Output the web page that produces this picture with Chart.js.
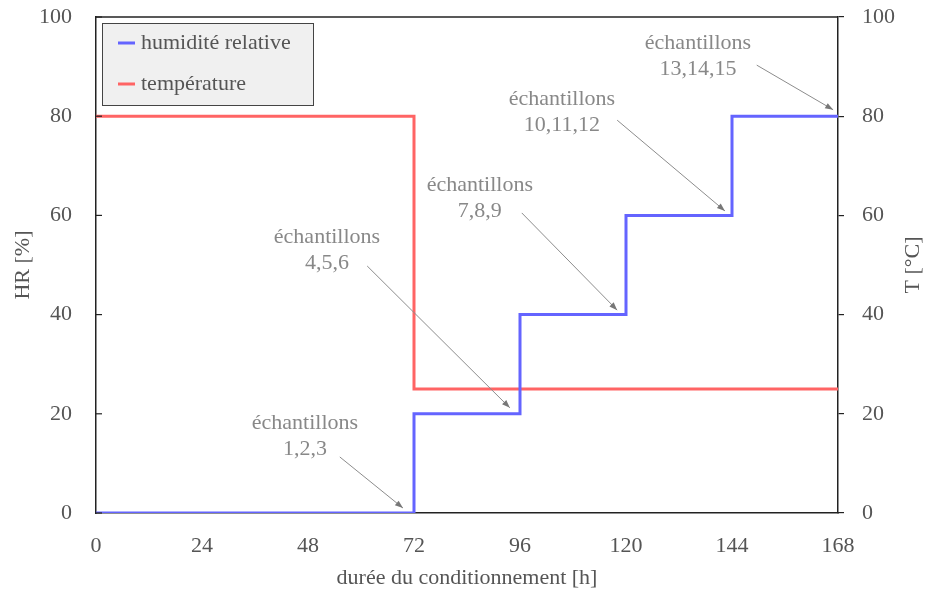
<!DOCTYPE html>
<html>
<head>
<meta charset="utf-8">
<script src="https://cdn.jsdelivr.net/npm/chart.js@4/dist/chart.umd.min.js"></script>
<style>
html,body{margin:0;padding:0;background:#fff;}
#wrap{width:927px;height:589px;position:relative;}
</style>
</head>
<body>
<div id="wrap"><canvas id="c"></canvas></div>
<script>
// ---- data ----
const hours = [0, 72, 96, 120, 144, 168];
const humidity = [0, 20, 40, 60, 80, 80];
const tempHours = [0, 72, 168];
const temperature = [80, 25, 25];
const seriesNames = ['humidité relative', 'température'];
const xTicks = [0, 24, 48, 72, 96, 120, 144, 168];
const yTicks = [0, 20, 40, 60, 80, 100];
const annotationLines = [
  ['échantillons', '1,2,3'],
  ['échantillons', '4,5,6'],
  ['échantillons', '7,8,9'],
  ['échantillons', '10,11,12'],
  ['échantillons', '13,14,15']
];
// annotation layout (data coordinates): text centre, arrow start, arrow end
const annotationText = [[47.3, 18.1], [52.3, 55.6], [86.9, 66.1], [105.5, 83.5], [136.3, 94.8]];
const arrowFrom = [[55.2, 11.3], [61.4, 49.8], [96.4, 60.5], [118, 79.2], [149.6, 90.3]];
const arrowTo = [[69.5, 1.0], [93.7, 21.2], [118, 40.9], [142.4, 60.9], [166.9, 81.3]];

const FONT = "'Liberation Serif', 'DejaVu Serif', serif";
const FS = 22;
const TXT = '#555555';
const AX = '#222222';
const BLUE = '#6464ff';
const RED = '#ff6464';

const extras = {
  id: 'extras',
  afterDraw(chart) {
    const ctx = chart.ctx;
    const a = chart.chartArea;
    const x = chart.scales.x, y = chart.scales.y;
    ctx.save();
    // top border
    ctx.strokeStyle = AX; ctx.lineWidth = 1.5;
    ctx.beginPath(); ctx.moveTo(a.left, a.top); ctx.lineTo(a.right, a.top); ctx.stroke();
    // inward ticks on left axis
    ctx.lineWidth = 1.2;
    yTicks.forEach(v => {
      const py = y.getPixelForValue(v);
      ctx.beginPath(); ctx.moveTo(a.left, py); ctx.lineTo(a.left + 6, py); ctx.stroke();
    });
    // annotations
    ctx.font = FS + 'px ' + FONT;
    ctx.textAlign = 'center'; ctx.textBaseline = 'middle';
    annotationLines.forEach((lines, i) => {
      const tx = x.getPixelForValue(annotationText[i][0]);
      const ty = y.getPixelForValue(annotationText[i][1]);
      ctx.fillStyle = '#888888';
      lines.forEach((s, k) => ctx.fillText(s, tx, ty + k * 26));
      const x0 = x.getPixelForValue(arrowFrom[i][0]), y0 = y.getPixelForValue(arrowFrom[i][1]);
      const x1 = x.getPixelForValue(arrowTo[i][0]), y1 = y.getPixelForValue(arrowTo[i][1]);
      ctx.strokeStyle = '#8c8c8c'; ctx.lineWidth = 1;
      ctx.beginPath(); ctx.moveTo(x0, y0); ctx.lineTo(x1, y1); ctx.stroke();
      const ang = Math.atan2(y1 - y0, x1 - x0), L = 8, W = 3;
      ctx.fillStyle = '#777777';
      ctx.beginPath();
      ctx.moveTo(x1, y1);
      ctx.lineTo(x1 - L * Math.cos(ang) + W * Math.sin(ang), y1 - L * Math.sin(ang) - W * Math.cos(ang));
      ctx.lineTo(x1 - L * Math.cos(ang) - W * Math.sin(ang), y1 - L * Math.sin(ang) + W * Math.cos(ang));
      ctx.closePath(); ctx.fill();
    });
    // legend box
    const lx = a.left + 6, ly = a.top + 6, lw = 211, lh = 82;
    ctx.fillStyle = '#f0f0f0'; ctx.fillRect(lx, ly, lw, lh);
    ctx.strokeStyle = '#444444'; ctx.lineWidth = 1; ctx.strokeRect(lx + 0.5, ly + 0.5, lw, lh);
    ctx.textAlign = 'left'; ctx.textBaseline = 'middle';
    chart.data.datasets.forEach((ds, i) => {
      const cy = ly + 20 + i * 41;
      ctx.strokeStyle = ds.borderColor; ctx.lineWidth = 3;
      ctx.beginPath(); ctx.moveTo(lx + 16, cy); ctx.lineTo(lx + 33, cy); ctx.stroke();
      ctx.fillStyle = TXT; ctx.fillText(ds.label, lx + 39, cy);
    });
    // right axis title (reads bottom-to-top)
    ctx.save();
    ctx.translate(913, (a.top + a.bottom) / 2);
    ctx.rotate(-Math.PI / 2);
    ctx.textAlign = 'center'; ctx.textBaseline = 'middle';
    ctx.fillStyle = TXT; ctx.fillText('T [°C]', 0, 0);
    ctx.restore();
    ctx.restore();
  }
};

const noPadY = s => { s.paddingTop = 0; s.paddingBottom = 0; };

new Chart(document.getElementById('c'), {
  type: 'line',
  data: {
    datasets: [
      { label: seriesNames[0], data: hours.map((h, i) => ({ x: h, y: humidity[i] })),
        borderColor: BLUE, borderWidth: 3, stepped: true, pointRadius: 0, fill: false, yAxisID: 'y' },
      { label: seriesNames[1], data: tempHours.map((h, i) => ({ x: h, y: temperature[i] })),
        borderColor: RED, borderWidth: 3, stepped: true, pointRadius: 0, fill: false, yAxisID: 'y2' }
    ]
  },
  options: {
    responsive: true, maintainAspectRatio: false, animation: false,
    layout: { padding: { top: 17, left: 0, right: 0, bottom: 0 } },
    plugins: { legend: { display: false }, tooltip: { enabled: false } },
    scales: {
      x: {
        type: 'linear', min: 0, max: 168,
        afterBuildTicks: s => { s.ticks = xTicks.map(v => ({ value: v })); },
        grid: { display: false, drawTicks: false },
        border: { display: true, color: AX, width: 1.5 },
        ticks: { color: TXT, font: { family: FONT, size: FS }, padding: 20, maxRotation: 0, autoSkip: false },
        title: { display: true, text: 'durée du conditionnement [h]', color: TXT, font: { family: FONT, size: FS }, padding: { top: 0, bottom: -2 } },
        afterFit: s => { s.height = 76; s.paddingLeft = 0; s.paddingRight = 0; }
      },
      y: {
        position: 'left', min: 0, max: 100,
        afterBuildTicks: s => { s.ticks = yTicks.map(v => ({ value: v })); },
        grid: { display: false, drawTicks: false },
        border: { display: true, color: AX, width: 1.5 },
        ticks: { color: TXT, font: { family: FONT, size: FS }, padding: 24 },
        title: { display: true, text: 'HR [%]', color: TXT, font: { family: FONT, size: FS }, padding: { top: 10, bottom: 0 } },
        afterFit: s => { s.width = 96; noPadY(s); }
      },
      y2: {
        position: 'right', min: 0, max: 100,
        afterBuildTicks: s => { s.ticks = yTicks.map(v => ({ value: v })); },
        grid: { display: true, drawOnChartArea: false, drawTicks: true, tickLength: 6, color: AX, lineWidth: 1.2 },
        border: { display: true, color: AX, width: 1.5 },
        ticks: { color: TXT, font: { family: FONT, size: FS }, padding: 18 },
        afterFit: s => { s.width = 89; noPadY(s); }
      }
    }
  },
  plugins: [extras]
});
</script>
</body>
</html>
